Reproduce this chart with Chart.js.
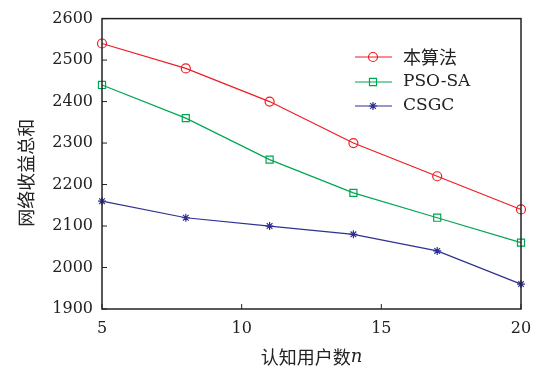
<!DOCTYPE html>
<html>
<head>
<meta charset="utf-8">
<script src="https://cdn.jsdelivr.net/npm/chart.js@4"></script>
<style>
    html, body { margin: 0; padding: 0; background: #fff; }
    #wrap { width: 551px; height: 367px; }
</style>
</head>
<body>
<div id="wrap"><canvas id="chart" width="551" height="367"></canvas></div>
<script>
// Data
const userCounts = [5, 8, 11, 14, 17, 20];
const ourAlgo = [2540, 2480, 2400, 2300, 2220, 2140];
const psoSa = [2440, 2360, 2260, 2180, 2120, 2060];
const csgc = [2160, 2120, 2100, 2080, 2040, 1960];
const seriesNames = ['本算法', 'PSO-SA', 'CSGC'];
const xTicks = [5, 10, 15, 20];
const yTicks = [1900, 2000, 2100, 2200, 2300, 2400, 2500, 2600];

const RED = '#ee1c25';
const GREEN = '#00a651';
const BLUE = '#2e3192';
const SERIF = '"DejaVu Serif", "Liberation Serif", serif';
const CJK = '"Noto Sans CJK SC", sans-serif';

function toPoints(values) {
    return values.map((v, i) => ({ x: userCounts[i], y: v }));
}

// Frame, inward ticks, titles and legend
const framePlugin = {
    id: 'frame',
    afterDraw(chart) {
        const ctx = chart.ctx;
        const area = chart.chartArea;
        const xs = chart.scales.x;
        const ys = chart.scales.y;
        ctx.save();
        ctx.strokeStyle = '#222';
        ctx.lineWidth = 1.5;
        ctx.strokeRect(area.left, area.top, area.right - area.left, area.bottom - area.top);

        ctx.lineWidth = 1;
        ctx.beginPath();
        yTicks.forEach(v => {
            const y = ys.getPixelForValue(v);
            ctx.moveTo(area.left, y);
            ctx.lineTo(area.left + 5, y);
        });
        xTicks.forEach(v => {
            const x = xs.getPixelForValue(v);
            ctx.moveTo(x, area.bottom);
            ctx.lineTo(x, area.bottom - 5);
        });
        ctx.stroke();

        // y title
        ctx.fillStyle = '#222';
        ctx.save();
        ctx.translate(26, (area.top + area.bottom) / 2 + 9);
        ctx.rotate(-Math.PI / 2);
        ctx.font = '18px ' + CJK;
        ctx.textAlign = 'center';
        ctx.textBaseline = 'middle';
        ctx.fillText('网络收益总和', 0, 0);
        ctx.restore();

        // x title with italic n
        ctx.textBaseline = 'middle';
        ctx.font = '18px ' + CJK;
        const cn = '认知用户数';
        const cnW = ctx.measureText(cn).width;
        ctx.font = 'italic 18px ' + SERIF;
        const nW = ctx.measureText('n').width;
        let startX = (area.left + area.right) / 2 - (cnW + nW) / 2;
        ctx.font = '18px ' + CJK;
        ctx.textAlign = 'left';
        ctx.fillText(cn, startX, 357);
        ctx.font = 'italic 18px ' + SERIF;
        ctx.fillText('n', startX + cnW, 357);

        // legend
        const entries = [
            { label: seriesNames[0], color: RED, style: 'circle', r: 4.5, y: 57 },
            { label: seriesNames[1], color: GREEN, style: 'rect', r: 5, y: 82 },
            { label: seriesNames[2], color: BLUE, style: 'star', r: 4, y: 106 }
        ];
        entries.forEach(e => {
            ctx.strokeStyle = e.color;
            ctx.fillStyle = 'rgba(0,0,0,0)';
            ctx.lineWidth = 1.2;
            ctx.beginPath();
            ctx.moveTo(355, e.y);
            ctx.lineTo(392, e.y);
            ctx.stroke();
            Chart.helpers.drawPoint(ctx, {
                pointStyle: e.style,
                radius: e.r,
                borderWidth: 1.2,
                rotation: 0
            }, 373, e.y);
            ctx.fillStyle = '#222';
            ctx.textAlign = 'left';
            if (e.style === 'circle') {
                ctx.font = '18px ' + CJK;
            } else {
                ctx.font = '17px ' + SERIF;
            }
            ctx.fillText(e.label, 403, e.y);
        });
        ctx.restore();
    }
};

function makeDataset(label, values, color, style, radius) {
    return {
        label: label,
        data: toPoints(values),
        borderColor: color,
        backgroundColor: 'rgba(0,0,0,0)',
        borderWidth: 1.2,
        pointStyle: style,
        pointRadius: radius,
        pointBorderWidth: 1.2,
        pointBorderColor: color,
        pointBackgroundColor: 'rgba(0,0,0,0)',
        tension: 0,
        clip: false
    };
}

document.addEventListener('DOMContentLoaded', function() {
    const ctx = document.getElementById('chart');
    new Chart(ctx, {
        type: 'line',
        data: {
            datasets: [
                makeDataset(seriesNames[0], ourAlgo, RED, 'circle', 4.5),
                makeDataset(seriesNames[1], psoSa, GREEN, 'rect', 5),
                makeDataset(seriesNames[2], csgc, BLUE, 'star', 4)
            ]
        },
        options: {
            responsive: false,
            animation: false,
            events: [],
            layout: { padding: { left: 0, right: 30, top: 17, bottom: 0 } },
            plugins: {
                legend: { display: false },
                tooltip: { enabled: false }
            },
            scales: {
                x: {
                    type: 'linear',
                    min: 5,
                    max: 20,
                    afterFit: function(scale) { scale.height = 58; },
                    afterBuildTicks: function(scale) {
                        scale.ticks = xTicks.map(v => ({ value: v }));
                    },
                    grid: { display: false, drawTicks: false },
                    border: { display: false },
                    ticks: {
                        padding: 10,
                        color: '#222',
                        font: { family: SERIF, size: 16 },
                        callback: function(value) { return String(value); }
                    }
                },
                y: {
                    type: 'linear',
                    min: 1900,
                    max: 2600,
                    afterFit: function(scale) { scale.width = 102; },
                    afterBuildTicks: function(scale) {
                        scale.ticks = yTicks.map(v => ({ value: v }));
                    },
                    grid: { display: false, drawTicks: false },
                    border: { display: false },
                    ticks: {
                        padding: 9,
                        color: '#222',
                        font: { family: SERIF, size: 16 },
                        callback: function(value) { return String(value); }
                    }
                }
            }
        },
        plugins: [framePlugin]
    });
});
</script>
</body>
</html>
